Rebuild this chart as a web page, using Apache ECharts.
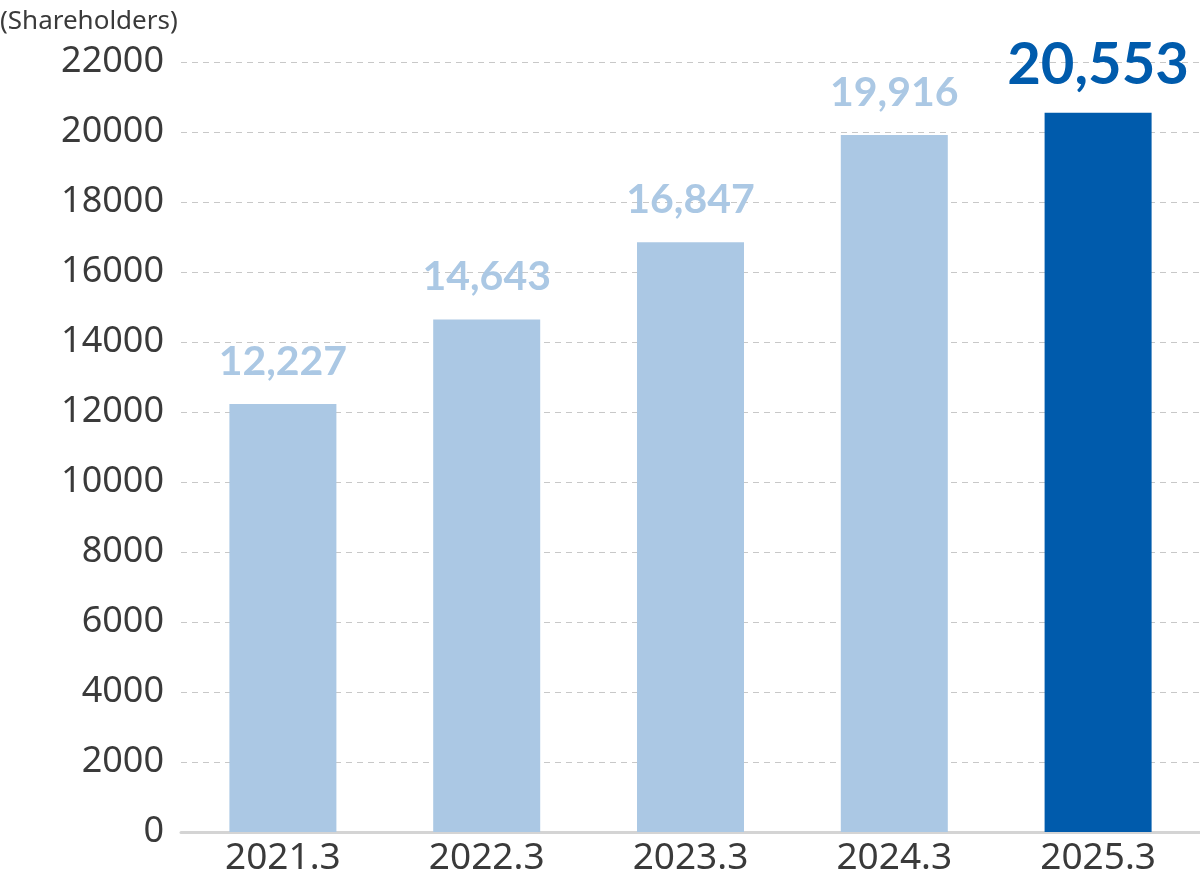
<!DOCTYPE html>
<html><head><meta charset="utf-8">
<script src="https://cdn.jsdelivr.net/npm/echarts@6/dist/echarts.min.js"></script>
<style>html,body{margin:0;padding:0;background:#fff}#c{width:1200px;height:881px}</style>
</head><body><div id="c"></div>
<script>
const categories = ['2021.3','2022.3','2023.3','2024.3','2025.3'];
const shareholders = [12227, 14643, 16847, 19916, 20553];
const yTicks = {min:0, max:22000, interval:2000};
const lightBlue = '#abc8e4', darkBlue = '#005bac';
const chart = echarts.init(document.getElementById('c'));
const last = shareholders.length - 1;
chart.setOption({
  animation:false,
  textStyle:{fontFamily:'Noto Sans'},
  graphic:[{type:'text', left:0, top:9, style:{text:'(Shareholders)', fontSize:26, fill:'#3a3a3a', fontFamily:'Noto Sans'}}],
  grid:{left:181, right:-2, top:62, bottom:49, containLabel:false},
  xAxis:{type:'category', data:categories,
    axisLine:{lineStyle:{color:'#d4d4d4', width:3}}, axisTick:{show:false},
    axisLabel:{fontSize:37, color:'#3a3a3a', margin:8, fontFamily:'Noto Sans'}},
  yAxis:{type:'value', min:yTicks.min, max:yTicks.max, interval:yTicks.interval,
    axisLine:{show:false}, axisTick:{show:false},
    axisLabel:{fontSize:36, color:'#3a3a3a', margin:17, fontFamily:'Noto Sans', formatter:v=>String(v)},
    splitLine:{lineStyle:{type:[6,5], color:'#c8c8c8', width:1}}},
  series:[{type:'bar', barWidth:107,
    data: shareholders.map((v,i)=>({value:v,
      itemStyle:{color: i===last?darkBlue:lightBlue},
      label:{show:true, position:'top', distance: i===last?18:22,
        formatter: p=>p.value.toLocaleString('en-US'),
        color: i===last?darkBlue:lightBlue, fontWeight:'bold',
        fontSize: i===last?58:41, fontFamily:'Lato'}}))}]
});
</script></body></html>
